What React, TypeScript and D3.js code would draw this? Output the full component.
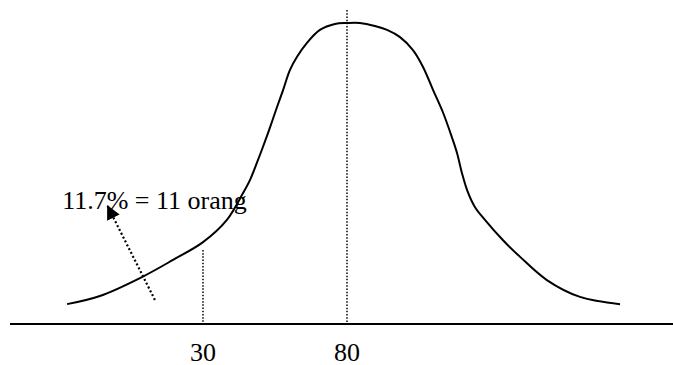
import React from "react";
import * as d3 from "d3";

// Curve: score (x) vs relative frequency (y, % of peak)
const curveX = [-17.2, -5.8, 8.8, 19.6, 30, 38.3, 43.9, 46.3, 48.7, 50.8, 53.3, 55.7, 57.8, 60.2, 62.6, 66.1, 70.6, 75.8, 80, 84.5, 89.7, 93.9, 98.4, 102.9, 106.4, 109.9, 113.4, 116.4, 118.2, 119.9, 121.7, 124.4, 127.9, 134.1, 140.1, 149.4, 160.9, 174.8];
const curveY = [6.6, 9.3, 15.6, 21.3, 27.2, 34.6, 43.5, 47.8, 53.5, 58.8, 65.4, 72.1, 77.7, 84.4, 88.7, 93.4, 97.7, 99.7, 100, 100, 99.0, 97.7, 95.3, 91.0, 85.4, 77.7, 70.1, 62.1, 56.8, 50.2, 44.5, 38.9, 34.6, 27.9, 22.3, 14.6, 9.0, 6.6];

const tickValues = [30, 80];
const tickLabels = ["30", "80"];
const markerTops = [24.6, 104.3];

const annotationText = "11.7% = 11 orang";
const arrowFrom = [13.3, 8];
const arrowTo = [-3.3, 39.5];
const textAnchorPt = [-18.9, 38.2];

export default function App() {
  const W = 673, H = 365;
  const x = d3.scaleLinear().domain([30, 80]).range([203, 347]);
  const y = d3.scaleLinear().domain([0, 100]).range([324, 23]);
  const pts: [number, number][] = curveX.map((v, i) => [v, curveY[i]]);
  const line = d3
    .line<[number, number]>()
    .x((d) => x(d[0]))
    .y((d) => y(d[1]))
    .curve(d3.curveCatmullRom.alpha(0.5));
  const font = "'Liberation Serif', 'Times New Roman', serif";
  return (
    <svg width={W} height={H} style={{ position: "absolute", left: 0, top: 0, background: "#fff" }}>
      <defs>
        <marker id="ah" markerUnits="userSpaceOnUse" markerWidth="16" markerHeight="16" refX="14" refY="7" orient="auto">
          <path d="M0,0 L14,7 L0,14 Z" fill="#000" />
        </marker>
      </defs>
      <line x1={10} x2={673} y1={y(0)} y2={y(0)} stroke="#000" strokeWidth={2} />
      {tickValues.map((t, i) => (
        <g key={t}>
          <line x1={x(t)} x2={x(t)} y1={y(markerTops[i])} y2={y(0)} stroke="#000" strokeWidth={1.5} strokeDasharray="1.5,1.7" />
          <text x={x(t)} y={361} textAnchor="middle" fontFamily={font} fontSize={26}>
            {tickLabels[i]}
          </text>
        </g>
      ))}
      <path d={line(pts) || ""} fill="none" stroke="#000" strokeWidth={2} />
      <line
        x1={x(arrowFrom[0])}
        y1={y(arrowFrom[1])}
        x2={x(arrowTo[0])}
        y2={y(arrowTo[1])}
        stroke="#000"
        strokeWidth={2.2}
        strokeDasharray="2,2.3"
        markerEnd="url(#ah)"
      />
      <text x={x(textAnchorPt[0])} y={y(textAnchorPt[1])} fontFamily={font} fontSize={26}>
        {annotationText}
      </text>
    </svg>
  );
}
